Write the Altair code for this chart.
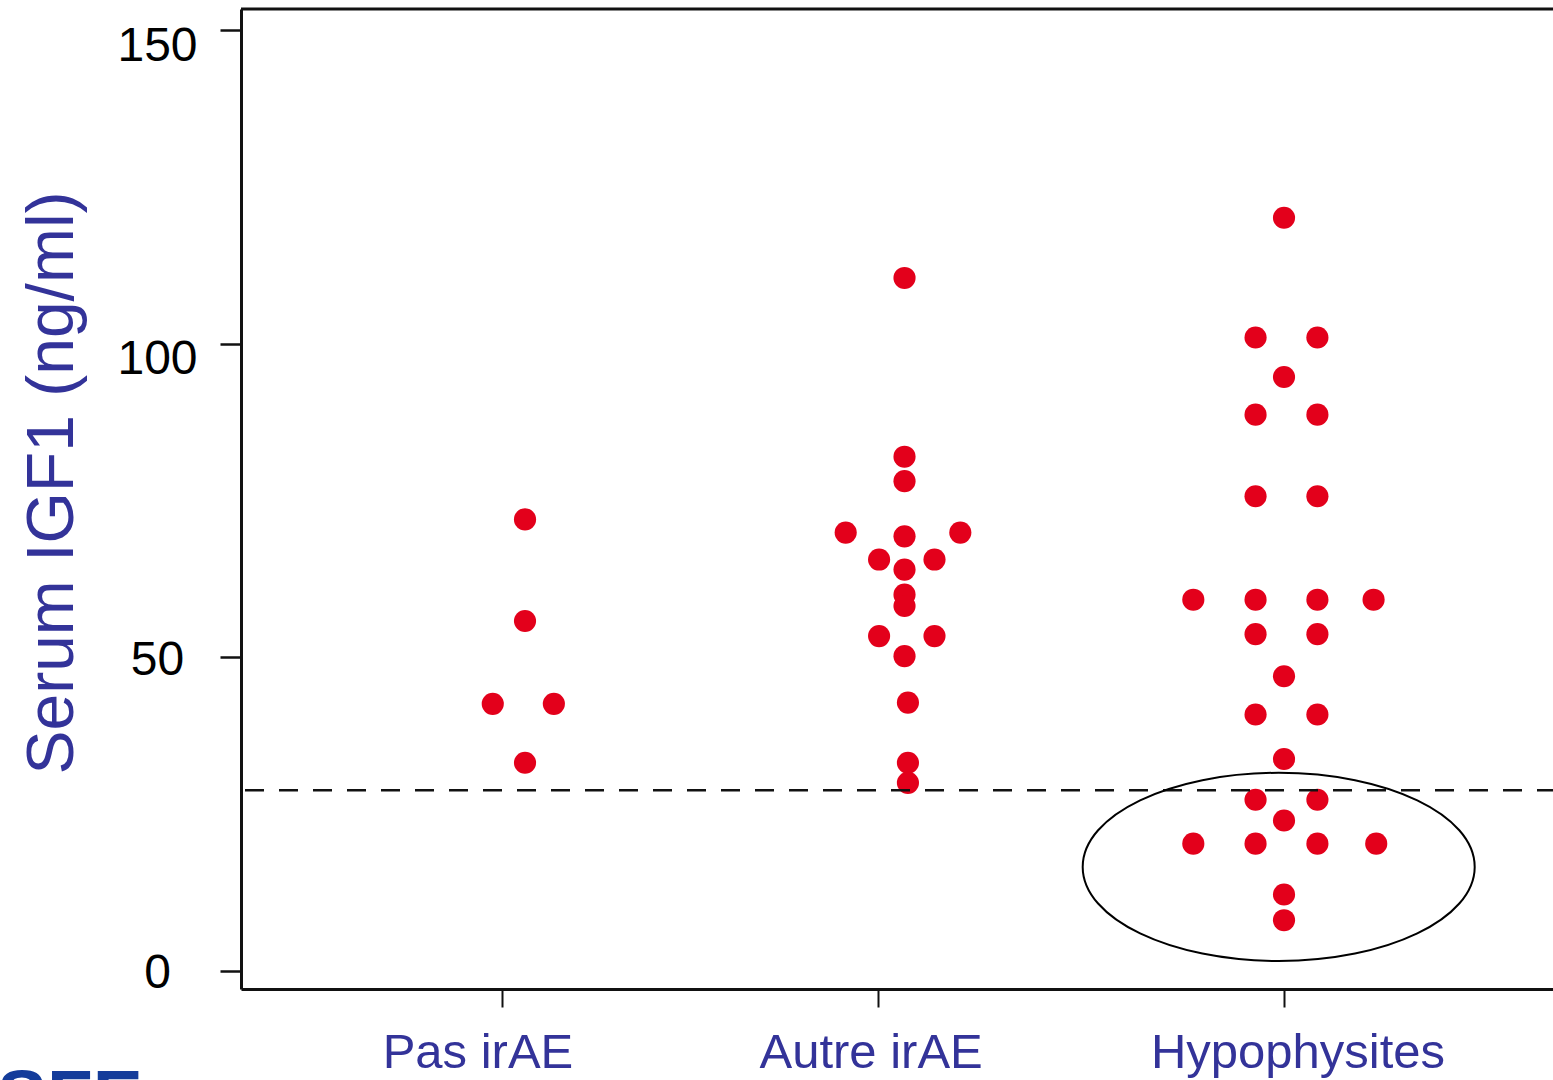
import altair as alt
import pandas as pd

# ---------------- data ----------------
CATEGORIES = ["Pas irAE", "Autre irAE", "Hypophysites"]
TICK_POS = [0.939, 1.930, 3.0]          # category tick positions on the x scale
LABEL_POS = [0.876, 1.912, 3.037]       # category label centres

PAS_VALUES = [72.0, 55.8, 42.6, 42.6, 33.2]
PAS_OFFSETS = [0, 0, -0.085, 0.076, 0]

AUTRE_VALUES = [110.5, 82.0, 78.1, 69.9, 69.3, 69.9, 65.6, 65.6, 64.0, 60.0,
                58.2, 53.4, 53.4, 50.2, 42.8, 33.2, 30.0]
AUTRE_OFFSETS = [0, 0, 0, -0.155, 0, 0.147, -0.067, 0.079, 0, 0,
                 0, -0.067, 0.079, 0, 0.009, 0.009, 0.009]

HYPO_VALUES = [120.1, 101.0, 101.0, 94.7, 88.7, 88.7, 75.7, 75.7,
               59.2, 59.2, 59.2, 59.2, 53.7, 53.7, 47.0, 40.9, 40.9,
               33.8, 27.3, 27.3, 24.0, 20.3, 20.3, 20.3, 20.3, 12.2, 8.1]
HYPO_OFFSETS = [0, -0.075, 0.088, 0, -0.075, 0.088, -0.075, 0.088,
                -0.239, -0.075, 0.088, 0.236, -0.075, 0.088, 0, -0.075, 0.088,
                0, -0.075, 0.088, 0, -0.239, -0.075, 0.088, 0.243, 0, 0]

THRESHOLD = [28.8]
ELLIPSE_X = [2.986]
ELLIPSE_Y = [16.6]
Y_TICKS = [0, 50, 100, 150]

# ---------------- tables ----------------
rows = []
for i, (vals, offs) in enumerate([(PAS_VALUES, PAS_OFFSETS),
                                  (AUTRE_VALUES, AUTRE_OFFSETS),
                                  (HYPO_VALUES, HYPO_OFFSETS)]):
    for v, o in zip(vals, offs):
        rows.append({"group": CATEGORIES[i], "pos": i + 1 + o, "igf1": v})
df = pd.DataFrame(rows)
labels_df = pd.DataFrame({"label": CATEGORIES, "pos": LABEL_POS})
thr_df = pd.DataFrame({"igf1": THRESHOLD})
ell_df = pd.DataFrame({"pos": ELLIPSE_X, "igf1": ELLIPSE_Y})

FONT = "Liberation Sans, Arial, sans-serif"
RED = "#E3001B"
BLUE = "#333399"
INK = "#111111"

xscale = alt.Scale(domain=[0.2516, 3.7088], nice=False, zero=False)
yscale = alt.Scale(domain=[-2.87, 153.38], nice=False, zero=False)

x_axis = alt.Axis(values=TICK_POS, labels=False, title=None, grid=False,
                  domainColor=INK, domainWidth=3, tickColor=INK, tickWidth=2,
                  tickSize=18)
y_axis = alt.Axis(values=Y_TICKS, title="Serum IGF1 (ng/ml)", grid=False,
                  titleFont=FONT, titleFontSize=66, titleColor=BLUE,
                  titleFontWeight="normal", titleAngle=270, titleAlign="center",
                  titleBaseline="alphabetic", titleX=-169, titleY=473.5,
                  labelFont=FONT, labelFontSize=48, labelColor="black",
                  labelAlign="center", labelPadding=63,
                  tickSize=21, tickWidth=2.5, tickColor=INK,
                  domainColor=INK, domainWidth=3,
                  labelOffset={"condition": {"test": "datum.value >= 100", "value": 16},
                               "value": 3})

X = alt.X("pos:Q", scale=xscale, axis=x_axis)
Y = alt.Y("igf1:Q", scale=yscale, axis=y_axis)

points = alt.Chart(df).mark_circle(size=490, color=RED, opacity=1).encode(x=X, y=Y)

dashed = alt.Chart(thr_df).mark_rule(color=INK, strokeWidth=2.5,
                                     strokeDash=[19, 15], strokeDashOffset=3).encode(y=Y)

ELLIPSE_PATH = "M-1,0A1,0.48,0,1,0,1,0A1,0.48,0,1,0,-1,0Z"
ellipse = alt.Chart(ell_df).mark_point(shape=ELLIPSE_PATH, size=153664, filled=False,
                                       stroke="black", strokeWidth=2, opacity=1).encode(
    x=X, y=Y)

cat_labels = alt.Chart(labels_df).mark_text(font=FONT, fontSize=49, color=BLUE,
                                            align="center", baseline="alphabetic").encode(
    x=X, y=alt.value(1059), text="label:N")

top_rule = alt.Chart(thr_df).mark_rule(color=INK, strokeWidth=3).encode(
    y=alt.value(0))

sfe = alt.Chart(thr_df).mark_text(font=FONT, fontSize=75, fontWeight="bold",
                                  color="#143C9A", align="left",
                                  baseline="alphabetic").encode(
    x=alt.value(-244), y=alt.value(1113), text=alt.value("SFE"))

chart = alt.layer(points, dashed, ellipse, cat_labels, top_rule, sfe).properties(
    width=1312, height=980,
    autosize=alt.AutoSizeParams(type="none"),
    padding={"left": 241, "top": 9, "right": 0, "bottom": 91},
).configure_view(stroke=None).configure(background="white")

chart.save("out.html", embed_options={"renderer": "svg", "actions": False})
